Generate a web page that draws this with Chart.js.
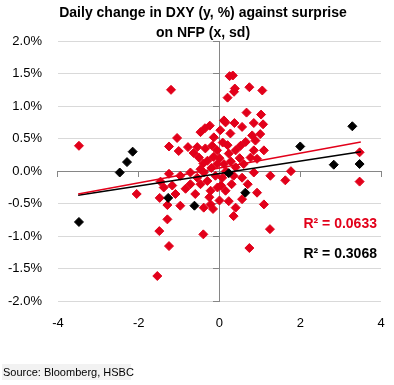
<!DOCTYPE html>
<html>
<head>
<meta charset="utf-8">
<script src="https://cdn.jsdelivr.net/npm/chart.js@4.4.1/dist/chart.umd.min.js"></script>
<style>
  body { margin: 0; background: #fff; }
  #wrap { width: 394px; height: 385px; position: relative; }
</style>
</head>
<body>
<div id="wrap"><canvas id="nfpChart"></canvas></div>
<script>
// NFP surprise (x, sd) vs daily DXY change (y, %)
const redX = [-3.48, -2.05, -1.20, -1.54, -1.25, -1.49, -1.29, -1.29, -1.48, -1.46,
  -1.38, -1.25, -1.05, -1.01, -0.78, -0.55, -0.64, -0.47, -0.36, -0.24,
  -0.14, -0.18, -0.30, -0.51, -0.06, -0.06, -0.47, 0.11, -1.25, -0.97,
  -1.17, -0.84, -1.09, -0.72, -0.47, -0.55, -0.30, -0.22, -0.10, -0.97,
  -0.39, -0.22, -0.39, -0.40, -0.16, -0.72, -0.40,
  0.25, 0.33, 0.36, 0.38, 0.20, 0.74, 1.06, 0.67, 1.03, 0.15,
  0.37, 0.85, 1.08, 0.56, 0.27, 1.01, 0.81, 0.89, 0.52, 0.02,
  0.08, 0.23, 0.40, 0.85, 1.10, 0.77, 0.93, 0.60, 0.11, 0.40,
  0.07, 0.35, 0.56, 0.85, 1.26, 1.63, 1.77, 0.15, 0.23, 0.56,
  0.93, 1.10, 0.40, 0.35, 1.25, 0.74, 0.04, 3.47, 3.47,
  -0.20, 0.00, 0.16, -0.05, 0.28, -0.15, 0.30, -0.35, 0.50, 0.20,
  -0.60, -0.25, 0.00, 0.70, 0.65];
const redY = [0.39, -0.35, 1.25, -1.61, -1.15, -0.92, -0.74, -0.52, -0.41, -0.16,
  -0.25, 0.38, 0.51, 0.31, 0.37, 0.37, 0.28, 0.60, 0.66, 0.70,
  0.52, 0.39, 0.16, 0.21, 0.32, 0.11, 0.03, 0.78, -0.04, -0.07,
  -0.22, -0.27, -0.35, -0.20, -0.20, -0.10, -0.15, -0.30, -0.07, -0.53,
  -0.56, -0.51, -0.02, -0.97, -0.58, -0.02, 0.12,
  1.46, 1.47, 1.22, 1.27, 1.13, 1.29, 1.24, 0.90, 0.87, 0.75,
  0.74, 0.74, 0.72, 0.68, 0.58, 0.57, 0.55, 0.47, 0.39, 0.63,
  0.44, 0.27, 0.32, 0.32, 0.32, 0.21, 0.19, 0.11, 0.11, 0.06,
  -0.10, -0.07, -0.10, -0.02, -0.07, -0.14, 0.00, -0.30, -0.46, -0.43,
  -0.33, -0.51, -0.56, -0.69, -0.89, -1.18, -0.22, 0.29, -0.16,
  0.05, 0.20, 0.00, -0.25, 0.15, 0.22, -0.20, 0.35, 0.20, 0.40,
  -0.35, -0.40, -0.45, -0.20, 0.45];

const blackX = [-3.48, -2.47, -2.29, -2.15, -1.27, -0.62, 0.23, 0.64, 2.00, 3.29, 2.83, 3.47];
const blackY = [-0.78, -0.02, 0.14, 0.30, -0.41, -0.53, -0.03, -0.33, 0.38, 0.69, 0.10, 0.11];

// trend line end points
const trendX = [-3.5, 3.5];
const redTrendY = [-0.35, 0.45];
const blackTrendY = [-0.37, 0.30];

const xTicks = [-4, -2, 0, 2, 4];
const yTicks = [-2, -1.5, -1, -0.5, 0, 0.5, 1, 1.5, 2];

const titleLines = ['Daily change in DXY (y, %) against surprise', 'on NFP (x, sd)'];
const rSquared = ['R\u00b2 = 0.0633', 'R\u00b2 = 0.3068'];
const sourceText = 'Source: Bloomberg, HSBC';

const RED = '#e2001a';
const FONT = '"Liberation Sans", Arial, sans-serif';

const toPoints = (xs, ys) => xs.map((v, i) => ({ x: v, y: ys[i] }));

// Title, R2 labels and source line
const textPlugin = {
    id: 'texts',
    afterDraw(chart) {
        const { ctx, scales } = chart;
        const x = scales.x, y = scales.y;
        ctx.save();
        ctx.fillStyle = '#000';
        ctx.font = 'bold 14px ' + FONT;
        ctx.textAlign = 'center';
        ctx.textBaseline = 'alphabetic';
        titleLines.forEach((t, i) => ctx.fillText(t, 203, 17 + i * 20));

        ctx.textAlign = 'right';
        ctx.fillStyle = RED;
        ctx.fillText(rSquared[0], x.getPixelForValue(3.9), y.getPixelForValue(-0.88));
        ctx.fillStyle = '#000';
        ctx.fillText(rSquared[1], x.getPixelForValue(3.9), y.getPixelForValue(-1.34));

        ctx.fillStyle = '#f2f2f2';
        ctx.fillRect(2, 364, 129, 16);
        ctx.fillStyle = '#000';
        ctx.font = '11px ' + FONT;
        ctx.textAlign = 'left';
        ctx.fillText(sourceText, 3, 376);
        ctx.restore();
    }
};

const ctx = document.getElementById('nfpChart').getContext('2d');

new Chart(ctx, {
    type: 'scatter',
    data: {
        datasets: [
            {
                type: 'line',
                data: toPoints(trendX, redTrendY),
                borderColor: RED,
                borderWidth: 1.5,
                pointRadius: 0,
                xAxisID: 'x', yAxisID: 'y'
            },
            {
                type: 'line',
                data: toPoints(trendX, blackTrendY),
                borderColor: '#000',
                borderWidth: 1.5,
                pointRadius: 0,
                xAxisID: 'x', yAxisID: 'y'
            },
            {
                data: toPoints(blackX, blackY),
                pointStyle: 'rectRot',
                pointRadius: 4.5,
                backgroundColor: '#000',
                borderColor: '#000',
                borderWidth: 1,
                xAxisID: 'x', yAxisID: 'y'
            },
            {
                data: toPoints(redX, redY),
                pointStyle: 'rectRot',
                pointRadius: 4.5,
                backgroundColor: RED,
                borderColor: RED,
                borderWidth: 1,
                xAxisID: 'x', yAxisID: 'y'
            }
        ]
    },
    options: {
        responsive: true,
        maintainAspectRatio: false,
        animation: false,
        layout: { padding: { top: 41, left: 6, right: 13, bottom: 52 } },
        plugins: {
            legend: { display: false },
            tooltip: { enabled: false }
        },
        scales: {
            x: {
                type: 'linear',
                position: 'bottom',
                min: -4, max: 4,
                afterBuildTicks: (s) => { s.ticks = xTicks.map(v => ({ value: v })); },
                // invisible tick marks give the gap under the plot
                grid: { drawOnChartArea: false, drawTicks: true, tickLength: 12, tickColor: 'rgba(0,0,0,0)' },
                border: { display: false },
                ticks: { color: '#000', padding: 2, font: { size: 13, family: FONT } }
            },
            y: {
                type: 'linear',
                position: 'left',
                min: -2, max: 2,
                afterBuildTicks: (s) => { s.ticks = yTicks.map(v => ({ value: v })); },
                grid: { color: '#d9d9d9', drawTicks: true, tickLength: 14, tickColor: 'rgba(0,0,0,0)' },
                border: { display: false },
                ticks: {
                    color: '#000', padding: 2,
                    font: { size: 13, family: FONT },
                    callback: (v) => v.toFixed(1) + '%'
                }
            },
            xZero: {
                type: 'linear',
                axis: 'x',
                position: { y: 0 },
                min: -4, max: 4,
                afterBuildTicks: (s) => { s.ticks = xTicks.map(v => ({ value: v })); },
                grid: { drawOnChartArea: false, color: '#868686', tickLength: 5 },
                border: { color: '#868686' },
                ticks: { display: false }
            },
            yZero: {
                type: 'linear',
                axis: 'y',
                position: { x: 0 },
                min: -2, max: 2,
                afterBuildTicks: (s) => { s.ticks = yTicks.map(v => ({ value: v })); },
                grid: { drawOnChartArea: false, color: '#868686', tickLength: 6 },
                border: { color: '#868686' },
                ticks: { display: false }
            }
        }
    },
    plugins: [textPlugin]
});
</script>
</body>
</html>
